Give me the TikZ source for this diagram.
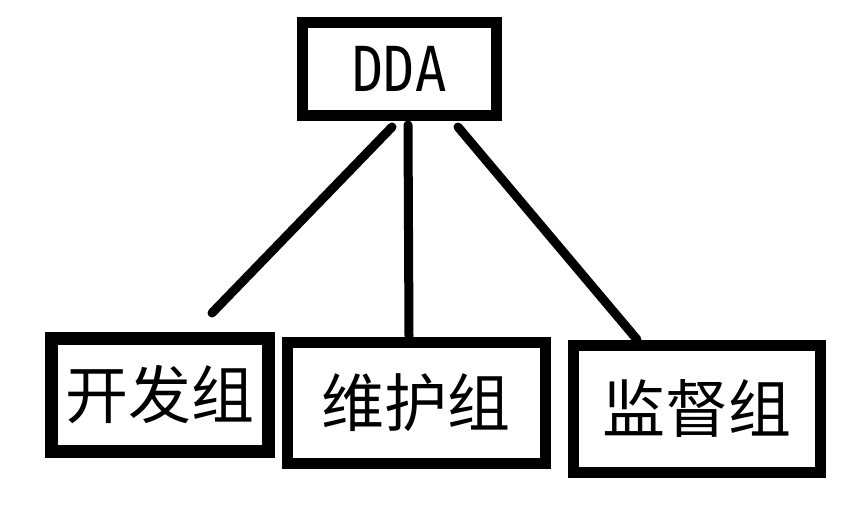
\documentclass[tikz,border=0pt]{standalone}
\usepackage{fontspec}
\newfontfamily\cjk{Noto Sans CJK SC}
\newfontfamily\latinmono[FakeStretch=0.84]{DejaVu Sans Mono}
\usetikzlibrary{calc}
\begin{document}
\begin{tikzpicture}[x=1pt,y=-1pt,
  groupbox/.style={draw=black,line width=11pt,fill=white,inner sep=0pt,
    font=\cjk\fontsize{63}{63}\selectfont},
  topbox/.style={draw=black,line width=11pt,fill=white,inner sep=0pt,
    font=\latinmono\fontsize{62}{62}\selectfont},
  link/.style={draw=black,line width=9pt,line cap=round}]
\useasboundingbox[fill=white] (0,0) rectangle (859,505);
\node[topbox,minimum width=194pt,minimum height=93pt] (dda) at (399.5,69) {DDA};
\node[groupbox,line width=13pt,minimum width=217pt,minimum height=113pt] (dev) at (160,395) {开发组};
\node[groupbox,minimum width=258pt,minimum height=121pt] (mnt) at (416,402.5) {维护组};
\node[groupbox,minimum width=247pt,minimum height=127pt] (sup) at (696.5,408.5) {监督组};
\coordinate (e1) at (212,313);
\draw[link] ($(dda.south)+(-7.5,6)$) -- (e1);
\draw[link] ($(dda.south)+(8.5,4)$) -- ($(mnt.north)+(-7,0)$);
\draw[link] ($(dda.south)+(58.5,6)$) -- ($(sup.north)+(-59.5,0)$);
\end{tikzpicture}
\end{document}
